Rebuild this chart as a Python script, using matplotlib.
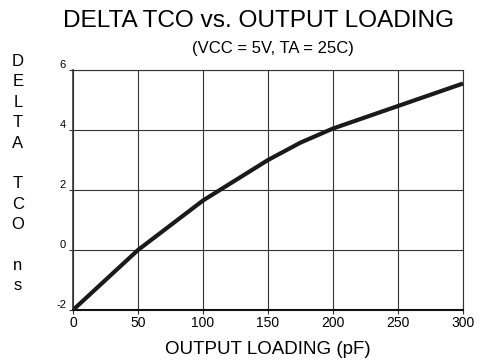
import matplotlib
matplotlib.use("Agg")
import matplotlib.pyplot as plt

plt.rcParams['font.family'] = ['Liberation Sans', 'DejaVu Sans']
plt.rcParams['axes.unicode_minus'] = False

load_pf = [0, 50, 100, 150, 175, 200, 250, 300]
delta_tco = [-2.0, 0.0, 1.65, 3.0, 3.58, 4.05, 4.8, 5.55]
x_ticks = [0, 50, 100, 150, 200, 250, 300]
y_ticks = [-2, 0, 2, 4, 6]

fig = plt.figure(figsize=(4.85, 3.62), dpi=100)
ax = fig.add_axes([0.1505, 0.1436, 0.8041, 0.663])
ax.plot(load_pf, delta_tco, color='#1a1a1a', lw=3.0, solid_capstyle='butt', zorder=3)
ax.set_xlim(0, 300)
ax.set_ylim(-2, 6)
ax.set_xticks(x_ticks)
ax.set_yticks(y_ticks)
ax.grid(True, color='#333333', lw=0.8)
for s in ax.spines.values():
    s.set_color('#333333')
    s.set_linewidth(0.8)
ax.spines['bottom'].set_linewidth(1.5)
ax.spines['bottom'].set_color('#111111')
ax.spines['left'].set_linewidth(1.2)
ax.tick_params(axis='y', length=3, width=0.8, labelsize=8, pad=2, color='#333333')
ax.tick_params(axis='x', length=3, width=0.8, labelsize=10, pad=1.5, color='#333333')
for lbl in ax.get_yticklabels():
    lbl.set_verticalalignment('bottom')

ax.set_xlabel('OUTPUT LOADING (pF)', fontsize=13.5, labelpad=8)
fig.text(0.533, 0.943, 'DELTA TCO vs. OUTPUT LOADING', fontsize=17.6, ha='center', va='center')
fig.text(0.563, 0.867, '(VCC = 5V, TA = 25C)', fontsize=12, ha='center', va='center')
fig.text(0.037, 0.52, 'D\nE\nL\nT\nA\n\nT\nC\nO\n\nn\ns', fontsize=12, ha='center', va='center',
         linespacing=1.45)

fig.savefig('out.png', dpi=100)
